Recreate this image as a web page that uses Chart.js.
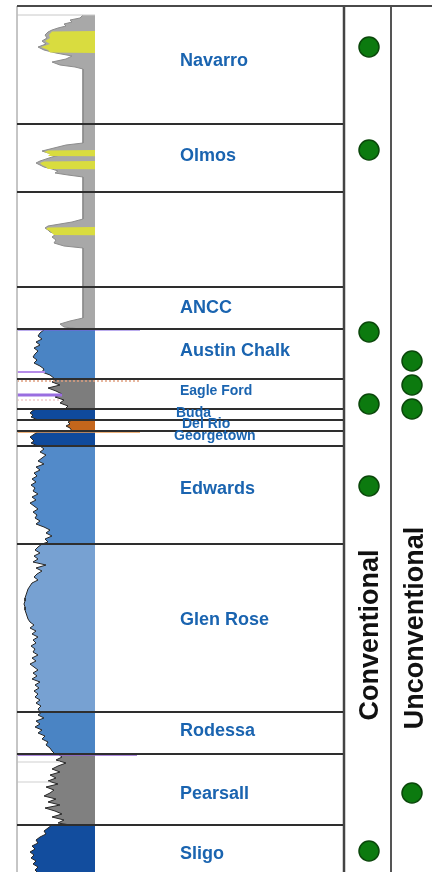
<!DOCTYPE html>
<html>
<head>
<meta charset="utf-8">
<title>Stratigraphic column</title>
<script src="https://cdn.jsdelivr.net/npm/chart.js@4.4.1/dist/chart.umd.min.js"></script>
<style>
    html, body { margin: 0; padding: 0; background: #ffffff; }
    #wrap { position: relative; width: 432px; height: 872px; }
</style>
</head>
<body>
<div id="wrap"><canvas id="strat-chart"></canvas></div>
<script>
// ---- formation data (depth = units down the column) ----
const formationNames = ['Navarro', 'Olmos', 'ANCC', 'Austin Chalk', 'Eagle Ford', 'Buda', 'Del Rio',
    'Georgetown', 'Edwards', 'Glen Rose', 'Rodessa', 'Pearsall', 'Sligo'];
const formationLabelDepth = [61, 156, 308, 351, 391, 413, 424, 436, 489, 620, 731, 794, 854];
const boundaryDepths = [124, 192, 287, 329, 379, 409, 420, 431, 446, 544, 712, 754, 825];
const columnTop = 6;
const columnBottom = 872;

// play type markers
const conventionalDepths = [47, 150, 332, 404, 486, 851];
const unconventionalDepths = [361, 385, 409, 793];

// ---- well log readings: [depth, reading] ----
const upperLog = [[15, 83], [18, 80], [20, 70], [22, 72], [24, 64], [26, 66], [28, 58], [30, 52], [32, 48],
    [35, 45], [38, 47], [41, 42], [44, 46], [47, 38], [50, 44], [53, 56], [56, 72], [59, 66], [62, 52],
    [65, 60], [67, 75], [69, 83], [143, 83], [145, 66], [147, 58], [149, 50], [151, 42], [153, 48],
    [155, 60], [157, 52], [159, 46], [161, 40], [163, 36], [165, 40], [167, 44], [169, 52], [171, 58],
    [173, 55], [175, 68], [177, 83], [219, 83], [222, 72], [224, 60], [226, 48], [228, 45], [230, 48],
    [232, 50], [234, 56], [237, 52], [240, 56], [243, 54], [246, 64], [248, 83], [318, 83], [321, 70],
    [324, 60], [327, 64], [329, 80]];
const sandNavarro = [[31, 95], [31.5, 52], [35, 49], [38, 50], [41, 45], [44, 50], [47, 41], [50, 48], [52.5, 50], [53, 95]];
const sandOlmosUpper = [[150, 95], [150.5, 48], [152, 44], [154, 50], [156, 48], [156.5, 95]];
const sandOlmosLower = [[161, 95], [161.5, 44], [163, 40], [165, 42], [167, 46], [169, 48], [169.5, 95]];
const sandLower = [[227, 95], [227.5, 48], [229, 46], [231, 50], [233, 52], [235, 54], [235.5, 95]];

const austinChalkLog = [[329, 45], [333, 40], [336, 38], [339, 42], [342, 36], [345, 40], [348, 34], [351, 38],
    [354, 35], [357, 33], [360, 37], [363, 34], [366, 40], [369, 44], [372, 42], [375, 50], [379, 55]];
const eagleFordLog = [[379, 58], [382, 52], [385, 60], [388, 48], [391, 56], [394, 62], [397, 55], [400, 64],
    [403, 60], [406, 68], [409, 65]];
const budaLog = [[409, 36], [411, 32], [413, 30], [415, 33], [417, 31], [420, 38]];
const delRioLog = [[420, 72], [422, 68], [424, 70], [426, 66], [428, 70], [431, 72]];
const georgetownLog = [[431, 40], [433, 36], [435, 33], [437, 30], [439, 32], [441, 34], [443, 31], [446, 38]];
const edwardsLog = [[446, 40], [449, 44], [452, 40], [455, 46], [458, 42], [461, 38], [464, 44], [467, 36],
    [470, 40], [473, 34], [476, 37], [479, 32], [482, 36], [485, 31], [488, 35], [491, 33], [494, 38],
    [497, 32], [500, 36], [503, 30], [506, 34], [509, 38], [512, 33], [515, 37], [518, 35], [521, 40],
    [524, 36], [527, 44], [530, 50], [533, 46], [536, 52], [539, 45], [542, 48], [544, 42]];
const glenRoseLog = [[544, 42], [547, 38], [550, 35], [553, 40], [556, 34], [559, 38], [562, 33], [565, 46],
    [568, 36], [571, 42], [574, 37], [577, 34], [580, 38], [583, 32], [586, 30], [589, 28], [592, 27],
    [595, 26], [598, 25], [601, 25], [604, 24], [607, 25], [610, 25], [613, 26], [616, 27], [619, 28],
    [622, 30], [625, 34], [628, 30], [631, 36], [634, 32], [637, 38], [640, 33], [643, 36], [646, 31],
    [649, 35], [652, 33], [655, 38], [658, 32], [661, 36], [664, 30], [667, 34], [670, 38], [673, 33],
    [676, 37], [679, 32], [682, 40], [685, 35], [688, 39], [691, 34], [694, 38], [697, 35], [700, 40],
    [703, 36], [706, 41], [709, 38], [712, 40]];
const rodessaLog = [[712, 42], [715, 38], [718, 44], [721, 36], [724, 40], [727, 35], [730, 42], [733, 38],
    [736, 45], [739, 42], [742, 48], [745, 46], [748, 50], [751, 52], [754, 55]];
const pearsallLog = [[754, 58], [757, 62], [760, 56], [763, 66], [766, 58], [769, 52], [772, 60], [775, 50],
    [778, 56], [781, 48], [784, 58], [787, 46], [790, 54], [793, 50], [796, 44], [799, 56], [802, 48],
    [805, 60], [808, 45], [811, 55], [814, 62], [817, 52], [820, 64], [823, 58], [825, 70]];
const sligoLog = [[825, 52], [828, 48], [831, 44], [834, 46], [837, 40], [840, 36], [843, 38], [846, 32],
    [849, 35], [852, 30], [855, 34], [858, 31], [861, 36], [864, 33], [867, 38], [870, 35], [872, 37]];

// ---- layout of the tracks (chart x units) ----
const TRACK_LEFT = 17;
const LOG_RIGHT = 95;
const TRACK_RIGHT = 343;
const CONV_X = 369;
const UNCONV_X = 412;

const toPoints = arr => arr.map(([d, v]) => ({ x: v, y: d }));
const hLine = (depth, x0, x1) => [{ x: x0, y: depth }, { x: x1, y: depth }];
const vLine = (x, d0, d1) => [{ x: x, y: d0 }, { x: x, y: d1 }];

function logDataset(arr, fillColor, order) {
    return {
        data: toPoints(arr),
        borderColor: '#262626',
        borderWidth: 1,
        backgroundColor: fillColor,
        fill: { value: LOG_RIGHT },
        pointRadius: 0,
        order: order
    };
}

function lineDataset(points, color, width, order, dash) {
    return {
        data: points,
        borderColor: color,
        borderWidth: width,
        borderDash: dash || [],
        fill: false,
        pointRadius: 0,
        order: order
    };
}

// labels and column titles
const labelPlugin = {
    id: 'stratLabels',
    afterDatasetsDraw(chart) {
        const { ctx, scales: { x, y } } = chart;
        const small = ['Eagle Ford', 'Buda', 'Del Rio', 'Georgetown'];
        const labelX = { 'Buda': 176, 'Del Rio': 182, 'Georgetown': 174 };
        ctx.save();
        ctx.fillStyle = '#1a64b0';
        ctx.textAlign = 'left';
        ctx.textBaseline = 'middle';
        formationNames.forEach((name, i) => {
            ctx.font = small.includes(name) ? 'bold 14px "Liberation Sans", Arial, sans-serif'
                                            : 'bold 18px "Liberation Sans", Arial, sans-serif';
            const px = x.getPixelForValue(labelX[name] || 180);
            const py = y.getPixelForValue(formationLabelDepth[i]);
            ctx.fillText(name, px, py);
        });

        ctx.fillStyle = '#111111';
        ctx.font = 'bold 27px "Liberation Sans", Arial, sans-serif';
        ctx.textAlign = 'center';
        ctx.textBaseline = 'alphabetic';
        [['Conventional', 378, 635], ['Unconventional', 423, 628]].forEach(([text, tx, td]) => {
            ctx.save();
            ctx.translate(x.getPixelForValue(tx), y.getPixelForValue(td));
            ctx.rotate(-Math.PI / 2);
            ctx.fillText(text, 0, 0);
            ctx.restore();
        });
        ctx.restore();
    }
};

class StratColumnChart {
    constructor(canvasId) {
        this.canvasId = canvasId;
        this.chart = null;
    }

    buildDatasets() {
        const sets = [];

        // play type dots on top
        sets.push({
            data: conventionalDepths.map(d => ({ x: CONV_X, y: d }))
                .concat(unconventionalDepths.map(d => ({ x: UNCONV_X, y: d }))),
            showLine: false,
            pointRadius: 10,
            pointStyle: 'circle',
            pointBackgroundColor: '#0c7a0f',
            pointBorderColor: '#0a470a',
            pointBorderWidth: 1.5,
            order: 0
        });

        // formation boundaries and frame
        boundaryDepths.forEach(d => sets.push(lineDataset(hLine(d, TRACK_LEFT, TRACK_RIGHT), '#2e2e2e', 2, 1)));
        sets.push(lineDataset(hLine(columnTop, TRACK_LEFT, 432), '#4a4a4a', 2, 1));
        sets.push(lineDataset(vLine(344, columnTop, columnBottom), '#444444', 2.5, 1));
        sets.push(lineDataset(vLine(391, columnTop, columnBottom), '#555555', 2, 1));
        sets.push(lineDataset(vLine(TRACK_LEFT, columnTop, columnBottom), '#bdbdbd', 1, 1));
        sets.push(lineDataset(hLine(15, TRACK_LEFT, LOG_RIGHT), '#c8c8c8', 1, 1));

        // log annotation lines
        sets.push(lineDataset(hLine(329.5, TRACK_LEFT, 140), '#7a5ce0', 2, 2));
        sets.push(lineDataset(hLine(372, TRACK_LEFT, 45), '#b58ce8', 2, 2));
        sets.push(lineDataset(hLine(381, TRACK_LEFT, 140), '#e0a080', 1.5, 2, [2, 2]));
        sets.push(lineDataset(hLine(395, TRACK_LEFT, 62), '#9a6ee0', 3, 2));
        sets.push(lineDataset(hLine(400, TRACK_LEFT, 60), '#e8b0b0', 1, 2, [2, 2]));
        sets.push(lineDataset(hLine(432, TRACK_LEFT, 140), '#e89a50', 1.5, 2));
        sets.push(lineDataset(hLine(755, TRACK_LEFT, 137), '#9060d0', 1.5, 2));
        sets.push(lineDataset(hLine(762, TRACK_LEFT, 60), '#cfcfcf', 1, 2));
        sets.push(lineDataset(hLine(782, TRACK_LEFT, 50), '#cfcfcf', 1, 2));

        // sands over the shale column
        [sandNavarro, sandOlmosUpper, sandOlmosLower, sandLower].forEach(s => {
            const ds = logDataset(s, '#d9dc3f', 4);
            ds.borderWidth = 0;
            sets.push(ds);
        });
        const upper = logDataset(upperLog, '#a8a8a8', 5);
        upper.borderColor = '#8c8c8c';
        sets.push(upper);

        sets.push(logDataset(austinChalkLog, '#4a84c4', 5));
        sets.push(logDataset(eagleFordLog, '#7d7d7d', 5));
        sets.push(logDataset(budaLog, '#0f4a9c', 5));
        sets.push(logDataset(delRioLog, '#c4661c', 5));
        sets.push(logDataset(georgetownLog, '#0f4a9c', 5));
        sets.push(logDataset(edwardsLog, '#528ac9', 5));
        sets.push(logDataset(glenRoseLog, '#77a1d2', 5));
        sets.push(logDataset(rodessaLog, '#4a84c4', 5));
        sets.push(logDataset(pearsallLog, '#808080', 5));
        sets.push(logDataset(sligoLog, '#124d9e', 5));
        return sets;
    }

    createChart() {
        const canvas = document.getElementById(this.canvasId);
        if (!canvas) {
            return;
        }
        this.chart = new Chart(canvas, {
            type: 'line',
            data: { datasets: this.buildDatasets() },
            options: {
                indexAxis: 'y',
                responsive: true,
                maintainAspectRatio: false,
                animation: false,
                layout: { padding: 0, autoPadding: false },
                elements: { line: { tension: 0 } },
                plugins: {
                    legend: { display: false },
                    tooltip: { enabled: false }
                },
                scales: {
                    x: { type: 'linear', min: 0, max: 432, display: false },
                    y: { type: 'linear', min: 0, max: 872, reverse: true, display: false }
                }
            },
            plugins: [labelPlugin]
        });
    }
}

new StratColumnChart('strat-chart').createChart();
</script>
</body>
</html>
